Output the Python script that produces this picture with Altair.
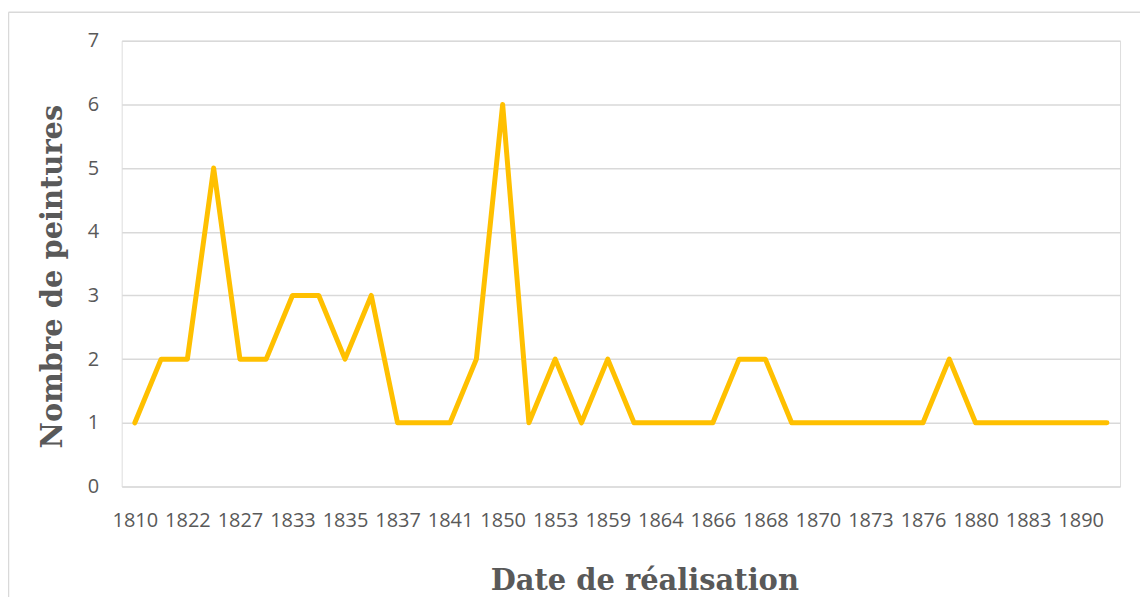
import altair as alt
import pandas as pd

# Catégories (années) — une étiquette sur deux est affichée sur l'axe
annees = ["1810", "1820", "1822", "1825", "1827", "1830", "1833", "1834", "1835", "1836",
          "1837", "1839", "1841", "1845", "1850", "1852", "1853", "1856", "1859", "1862",
          "1864", "1865", "1866", "1867", "1868", "1869", "1870", "1872", "1873", "1875",
          "1876", "1878", "1880", "1882", "1883", "1885", "1890", "1892"]
nombres = [1, 2, 2, 5, 2, 2, 3, 3, 2, 3,
           1, 1, 1, 2, 6, 1, 2, 1, 2, 1,
           1, 1, 1, 2, 2, 1, 1, 1, 1, 1,
           1, 2, 1, 1, 1, 1, 1, 1]
etiquettes_x = ["1810", "1822", "1827", "1833", "1835", "1837", "1841", "1850", "1853", "1859",
                "1864", "1866", "1868", "1870", "1873", "1876", "1880", "1883", "1890"]
graduations_y = [0, 1, 2, 3, 4, 5, 6, 7]

df = pd.DataFrame({"annee": annees, "nombre": nombres})

W, H = 1001, 447
GRAY = "#595959"

line = alt.Chart(df).mark_line(
    color="#FFC000", strokeWidth=5, strokeJoin="round", strokeCap="round"
).encode(
    x=alt.X(
        "annee:N", sort=annees,
        scale=alt.Scale(type="point", padding=0.5),
        axis=alt.Axis(
            values=etiquettes_x, title="Date de réalisation", labelAngle=0, grid=False,
            domain=False, ticks=False, labelOverlap=False,
            labelFont="Open Sans", labelFontSize=20, labelColor=GRAY, labelPadding=24,
            titleFont="DejaVu Serif", titleFontWeight="bold", titleFontSize=29,
            titleColor=GRAY, titleX=524, titleY=103, titleBaseline="alphabetic",
            titleAlign="center",
        ),
    ),
    y=alt.Y(
        "nombre:Q",
        scale=alt.Scale(domain=[0, 7], nice=False),
        axis=alt.Axis(
            values=graduations_y, title="Nombre de peintures", grid=True,
            gridColor="#d9d9d9", gridWidth=1.5, domain=False, ticks=False,
            labelFont="Open Sans", labelFontSize=20, labelColor=GRAY, labelPadding=23,
            titleFont="DejaVu Serif", titleFontWeight="bold", titleFontSize=29,
            titleColor=GRAY, titleAngle=-90, titleX=-60, titleY=236,
            titleAlign="center", titleBaseline="alphabetic",
        ),
    ),
)

one = pd.DataFrame({"k": [0]})
border_left = alt.Chart(one).mark_rule(color="#d9d9d9", strokeWidth=1.5).encode(
    x=alt.value(-113.5), y=alt.value(-28.5), y2=alt.value(700)
)
border_top = alt.Chart(one).mark_rule(color="#d9d9d9", strokeWidth=1.5).encode(
    x=alt.value(-113.5), x2=alt.value(1100), y=alt.value(-28.5)
)

chart = alt.layer(border_left, border_top, line).properties(
    width=W, height=H,
    autosize=alt.AutoSizeParams(type="none"),
    padding={"left": 114, "top": 32, "right": 20, "bottom": 110},
).configure_view(strokeWidth=0).configure(background="white")

chart.save("out.html", embed_options={"renderer": "svg", "actions": False})
